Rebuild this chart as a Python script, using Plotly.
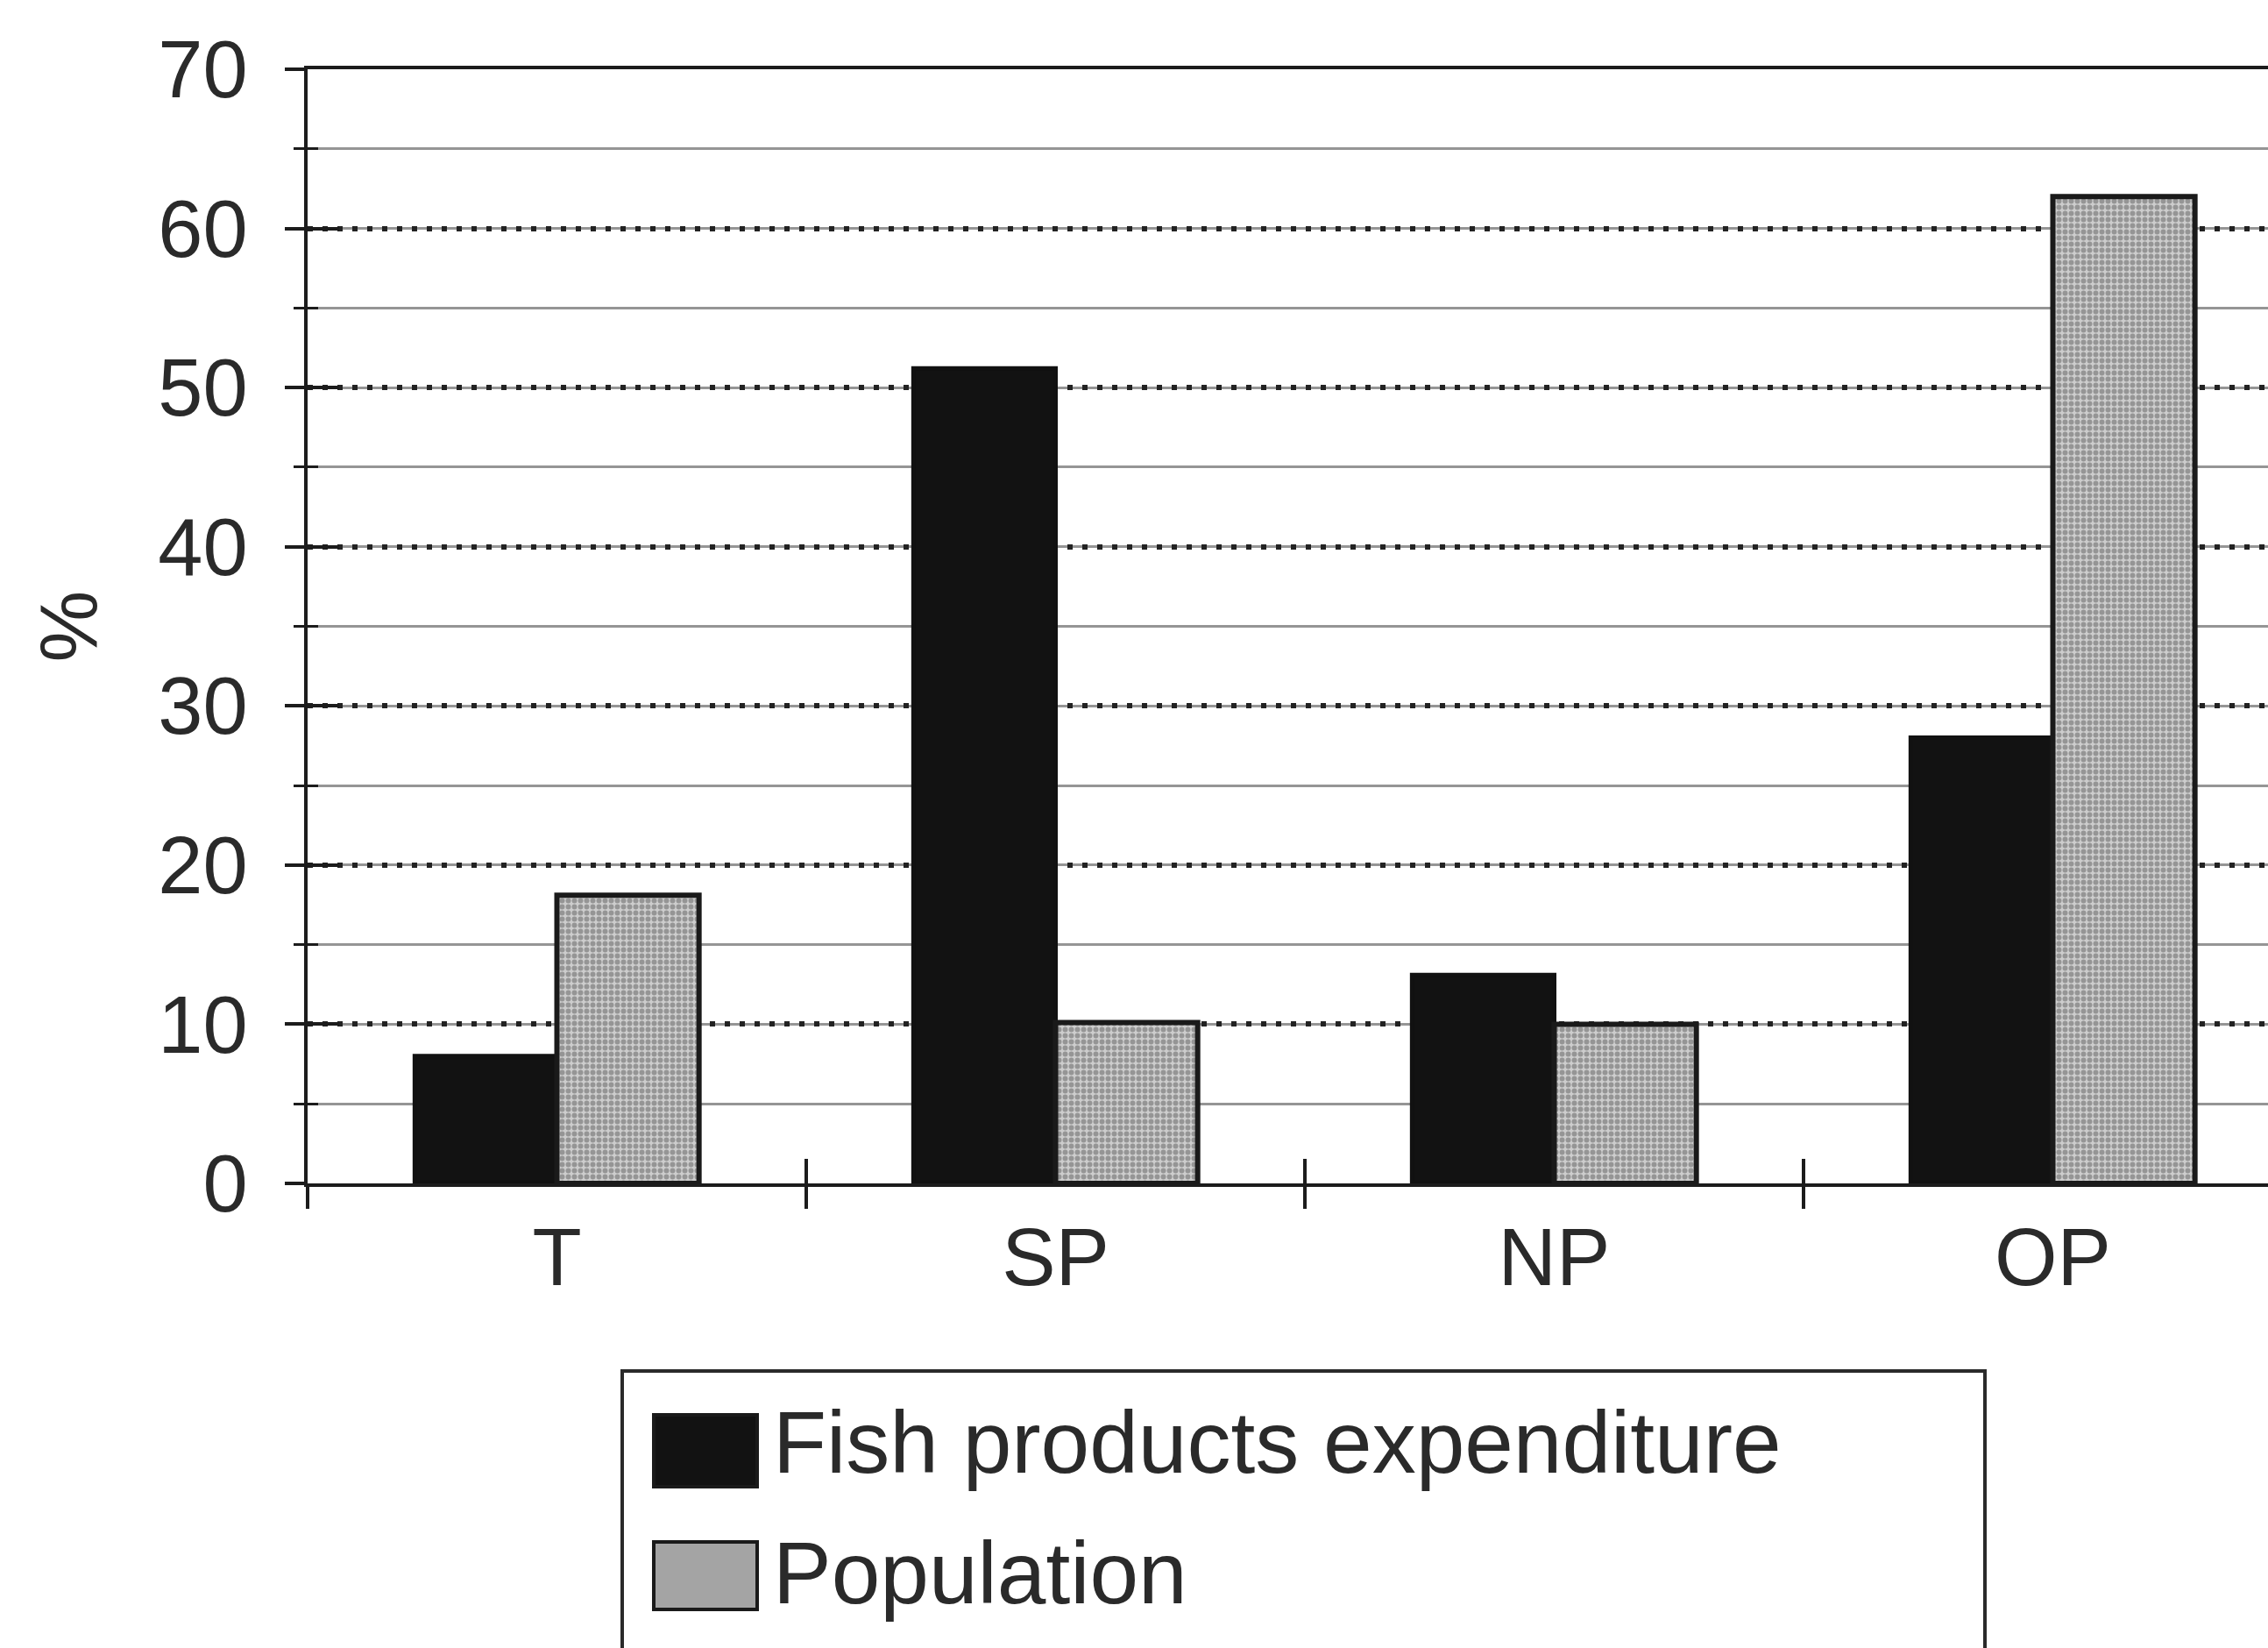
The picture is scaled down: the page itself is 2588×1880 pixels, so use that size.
import plotly.graph_objects as go

# Share (%) of fish products expenditure and population by area
categories = ["T", "SP", "NP", "OP"]
series_names = ["Fish products expenditure", "Population"]
fish_expenditure = [8.0, 51.2, 13.1, 28.0]
population = [18.1, 10.1, 10.0, 62.0]
y_tick_values = [0, 10, 20, 30, 40, 50, 60, 70]

W, H = 2588, 1880
ML, MR, MT, MB = 351, 0, 79, 530
FONT = "Liberation Sans, Arial, Helvetica, sans-serif"
TEXT = "#2a2a2a"


def px_x(x):
    return (x - ML) / (W - ML - MR)


def px_y(y):
    return (H - MB - y) / (H - MT - MB)


fig = go.Figure()
fig.add_trace(go.Bar(
    x=categories, y=fish_expenditure, name=series_names[0],
    marker=dict(color="#121212", line=dict(color="#111111", width=5)),
    showlegend=False,
))
fig.add_trace(go.Bar(
    x=categories, y=population, name=series_names[1],
    marker=dict(
        color="#c8c8c8",
        line=dict(color="#1a1a1a", width=6),
        pattern=dict(shape=".", fgcolor="#5e5e5e", bgcolor="#cdcdcd",
                     size=7, solidity=0.55),
    ),
    showlegend=False,
))
# empty trace so the overlaid tick axes (inner tick marks) are rendered
fig.add_trace(go.Scatter(x=[], y=[], xaxis="x2", yaxis="y2",
                         showlegend=False, hoverinfo="skip"))

n = len(categories)
x_range = [-0.5, -0.5 + (W - ML - MR) / 569.0]
boundaries = [i - 0.5 for i in range(n + 1)]

axis_line = dict(showline=True, linecolor="#1c1c1c", linewidth=4)

fig.update_layout(
    width=W, height=H,
    margin=dict(l=ML, r=MR, t=MT, b=MB, pad=0),
    paper_bgcolor="#ffffff", plot_bgcolor="#ffffff",
    font=dict(family=FONT, size=92, color=TEXT),
    barmode="group", bargap=0.43, bargroupgap=0,
    xaxis=dict(
        range=x_range, type="category", categoryarray=categories,
        tickson="boundaries", ticks="outside", ticklen=25, tickwidth=4,
        tickcolor="#1c1c1c", mirror=True, showgrid=False, zeroline=False,
        tickfont=dict(size=92, color=TEXT), ticklabelstandoff=2,
        **axis_line,
    ),
    xaxis2=dict(
        overlaying="x", range=x_range, type="linear", tickmode="array",
        tickvals=boundaries, showticklabels=False, ticks="inside",
        ticklen=28, tickwidth=4, tickcolor="#1c1c1c", showgrid=False,
        zeroline=False, showline=False, anchor="y2",
    ),
    yaxis=dict(
        range=[0, 70], tickmode="array", tickvals=y_tick_values,
        ticks="outside", ticklen=22, tickwidth=4, tickcolor="#1c1c1c",
        showgrid=True, gridcolor="#222222", gridwidth=5.5,
        griddash="6px,11px", zeroline=False,
        minor=dict(dtick=5, ticks="outside", ticklen=12, tickwidth=3,
                   tickcolor="#1c1c1c", showgrid=True, gridcolor="#959595",
                   gridwidth=2.5, griddash="solid"),
        tickfont=dict(size=92, color=TEXT), ticklabelstandoff=24,
        title=dict(text="%", font=dict(size=92, color=TEXT), standoff=40),
        **axis_line,
    ),
    yaxis2=dict(
        overlaying="y", range=[0, 70], tickmode="array",
        tickvals=y_tick_values, showticklabels=False, ticks="inside",
        ticklen=36, tickwidth=4, tickcolor="#1c1c1c", showgrid=False,
        zeroline=False, showline=False, anchor="x2", side="left",
        minor=dict(dtick=5, ticks="inside", ticklen=12, tickwidth=3,
                   tickcolor="#1c1c1c", showgrid=False),
    ),
)

# Legend drawn as a framed key below the plot
legend_colors = ["#121212", "#a4a4a4"]
legend_rows = [(1614, 1696, 1645), (1759, 1836, 1794)]
shapes = [dict(type="rect", xref="paper", yref="paper",
               x0=px_x(710), x1=px_x(2265), y0=px_y(1564), y1=px_y(1910),
               line=dict(color="#2a2a2a", width=4), fillcolor="rgba(0,0,0,0)")]
annotations = []
for name, color, (top, bottom, mid) in zip(series_names, legend_colors, legend_rows):
    shapes.append(dict(type="rect", xref="paper", yref="paper",
                       x0=px_x(746), x1=px_x(864), y0=px_y(bottom), y1=px_y(top),
                       line=dict(color="#1a1a1a", width=4), fillcolor=color))
    annotations.append(dict(text=name, xref="paper", yref="paper",
                            x=px_x(880), y=px_y(mid), xanchor="left",
                            yanchor="middle", showarrow=False,
                            font=dict(size=100, color=TEXT, family=FONT)))
fig.update_layout(shapes=shapes, annotations=annotations)

fig.write_html("out.html")
